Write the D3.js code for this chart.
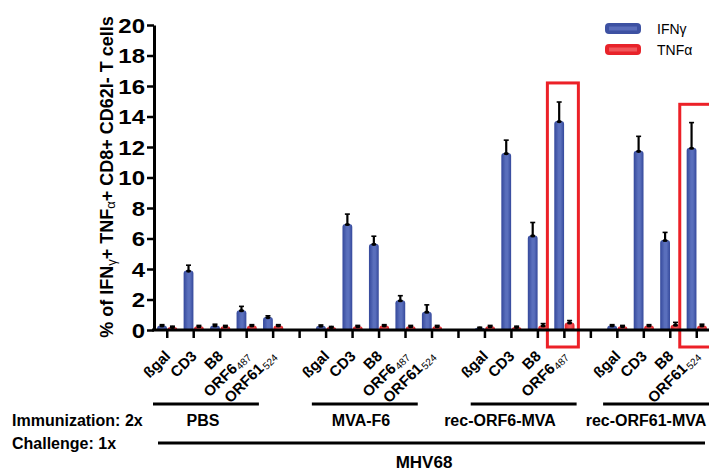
<!DOCTYPE html>
<html><head><meta charset="utf-8">
<script src="https://cdn.jsdelivr.net/npm/d3@7"></script>
<style>body{margin:0;background:#fff} svg{display:block;font-family:"Liberation Sans",Arial,Helvetica,sans-serif}</style>
</head><body><svg id="c" width="709" height="472"></svg>
<script>
// ---- data ----
const groups = ["PBS", "MVA-F6", "rec-ORF6-MVA", "rec-ORF61-MVA"];
const catPBS = ["ßgal", "CD3", "B8", "ORF6_487", "ORF61_524"];
const catMVA = ["ßgal", "CD3", "B8", "ORF6_487", "ORF61_524"];
const catRecORF6 = ["ßgal", "CD3", "B8", "ORF6_487"];
const catRecORF61 = ["ßgal", "CD3", "B8", "ORF61_524"];
const groupCats = [catPBS, catMVA, catRecORF6, catRecORF61];

const ifngMean = [
  [0.3, 3.9, 0.3, 1.3, 0.85],
  [0.28, 6.95, 5.65, 1.95, 1.2],
  [0.15, 11.6, 6.2, 13.7],
  [0.3, 11.75, 5.9, 11.95]
];
const ifngErr = [
  [0.05, 0.35, 0.08, 0.25, 0.08],
  [0.05, 0.65, 0.5, 0.3, 0.45],
  [0.03, 0.85, 0.85, 1.25],
  [0.05, 0.95, 0.5, 1.65]
];
const tnfMean = [
  [0.2, 0.25, 0.25, 0.3, 0.3],
  [0.2, 0.25, 0.3, 0.25, 0.25],
  [0.25, 0.2, 0.3, 0.5],
  [0.25, 0.3, 0.35, 0.3]
];
const tnfErr = [
  [0.05, 0.05, 0.05, 0.05, 0.05],
  [0.03, 0.05, 0.05, 0.05, 0.05],
  [0.05, 0.05, 0.12, 0.12],
  [0.05, 0.05, 0.15, 0.08]
];
const yTicks = [0, 2, 4, 6, 8, 10, 12, 14, 16, 18, 20];
const seriesNames = ["IFNγ", "TNFα"];
const highlights = [{group: 2, cat: 3, top: 16.2}, {group: 3, cat: 3, top: 14.8}];

// ---- layout ----
const svg = d3.select("#c");
const slots = [];
groupCats.forEach((cats, g) => {
  cats.forEach((c, i) => slots.push(`${g}-${i}`));
  if (g < groupCats.length - 1) slots.push(`gap-${g}`);
});
const x = d3.scaleBand().domain(slots).range([154, 710]);
const y = d3.scaleLinear().domain([0, 20]).range([330, 25]);
const cx = k => x(k) + x.bandwidth() / 2;
const bw = 9.8;
const groupLabelX = [203, 361, 500, 646];

// gradients
const defs = svg.append("defs");
function grad(id, edge, mid) {
  const gr = defs.append("linearGradient").attr("id", id).attr("x1", 0).attr("x2", 1).attr("y1", 0).attr("y2", 0);
  [[0, edge], [0.45, mid], [0.65, mid], [1, edge]].forEach(([o, c]) => gr.append("stop").attr("offset", o).attr("stop-color", c));
}
grad("gb", "#34489b", "#5a6fbc");
grad("gr", "#e41d24", "#f2575b");
const colors = ["url(#gb)", "url(#gr)"];

// highlight boxes
highlights.forEach(h => {
  const c = cx(`${h.group}-${h.cat}`);
  svg.append("rect").attr("x", c - 17).attr("y", y(h.top)).attr("width", 31).attr("height", 347 - y(h.top))
    .attr("fill", "none").attr("stroke", "#ec2027").attr("stroke-width", 3);
});

// bars
function barPath(x0, w, top, bottom) {
  const h = bottom - top, r = Math.min(3, h, w / 2);
  return `M${x0},${bottom}V${top + r}Q${x0},${top} ${x0 + r},${top}H${x0 + w - r}Q${x0 + w},${top} ${x0 + w},${top + r}V${bottom}Z`;
}
const barG = svg.append("g");
groupCats.forEach((cats, g) => {
  cats.forEach((c, i) => {
    const center = cx(`${g}-${i}`);
    [[ifngMean, ifngErr, center - bw - 0.3], [tnfMean, tnfErr, center + 0.3]].forEach(([m, e, x0], s) => {
      const v = m[g][i], er = e[g][i];
      barG.append("path").attr("d", barPath(x0, bw, y(v), y(0))).attr("fill", colors[s]);
      const bc = x0 + bw / 2;
      barG.append("line").attr("x1", bc).attr("x2", bc).attr("y1", y(v)).attr("y2", y(v + er))
        .attr("stroke", "#000").attr("stroke-width", 2.2);
      barG.append("line").attr("x1", bc - 2.5).attr("x2", bc + 2.5).attr("y1", y(v + er)).attr("y2", y(v + er))
        .attr("stroke", "#000").attr("stroke-width", 1.6);
      barG.append("ellipse").attr("cx", bc).attr("cy", y(v) + 0.5).attr("rx", 2.6).attr("ry", 1.6).attr("fill", "#000");
    });
  });
});

// y axis
const yAx = svg.append("g").attr("transform", "translate(154,0)")
  .call(d3.axisLeft(y).tickValues(yTicks).tickSize(7).tickSizeOuter(0).tickPadding(2));
yAx.select(".domain").attr("stroke-width", 3);
yAx.selectAll(".tick line").attr("stroke-width", 2.5);
yAx.selectAll(".tick text").attr("font-size", 20).attr("font-weight", "bold").attr("fill", "#000")
  .attr("x", 0).attr("dy", "0.36em").attr("transform", "translate(-9,0) scale(1.2,1)");

// x axis
const xAx = svg.append("g").attr("transform", "translate(0,330)")
  .call(d3.axisBottom(x).tickSize(8).tickSizeOuter(0).tickFormat(""));
xAx.select(".domain").attr("stroke-width", 3).attr("d", "M152,0H709");
xAx.selectAll(".tick line").attr("stroke-width", 2.5);

// x labels
groupCats.forEach((cats, g) => {
  cats.forEach((c, i) => {
    const [name, sub] = c.split("_");
    const t = svg.append("text").attr("transform", `translate(${cx(`${g}-${i}`) + 4},357) rotate(-45)`)
      .attr("text-anchor", "end").attr("font-size", 15).attr("font-weight", "bold");
    t.append("tspan").text(name);
    if (sub) t.append("tspan").attr("font-size", 10).attr("font-weight", "normal").attr("dy", 2).attr("dx", 1).text(sub);
  });
});

// y label
const yl = svg.append("text").attr("transform", "translate(113,177) rotate(-90)")
  .attr("text-anchor", "middle").attr("font-size", 18).attr("font-weight", "bold");
[["% of IFN", 18, 0], ["γ", 13, 3], ["+ TNF", 18, -3], ["α", 13, 2], ["+ CD8+ CD62l- T cells", 18, -2]].forEach(([s, fs, dy]) => {
  yl.append("tspan").attr("font-size", fs).attr("font-weight", fs < 18 ? "normal" : "bold").attr("dy", dy).text(s);
});

// legend
seriesNames.forEach((n, s) => {
  const ly = 23 + s * 21;
  svg.append("rect").attr("x", 605).attr("y", ly).attr("width", 36).attr("height", 11).attr("rx", 4)
    .attr("fill", s ? "#e8232a" : "#3d51a2");
  svg.append("rect").attr("x", 609).attr("y", ly + 3.5).attr("width", 28).attr("height", 4)
    .attr("fill", s ? "#f0585c" : "#5a6dba");
  svg.append("text").attr("x", 657).attr("y", ly + 11).attr("font-size", 14).text(n);
});

// group lines and labels
groups.forEach((gname, g) => {
  const x0 = x(`${g}-0`) - 1;
  const x1 = Math.min(x0 + 4 * x.step(), 709);
  svg.append("line").attr("x1", x0).attr("x2", x1).attr("y1", 404).attr("y2", 404).attr("stroke", "#000").attr("stroke-width", 3);
  svg.append("text").attr("x", groupLabelX[g]).attr("y", 426)
    .attr("text-anchor", "middle").attr("font-size", 16).attr("font-weight", "bold").text(gname);
});
svg.append("text").attr("x", 12).attr("y", 426).attr("font-size", 16).attr("font-weight", "bold").text("Immunization: 2x");
svg.append("text").attr("x", 12).attr("y", 449).attr("font-size", 16).attr("font-weight", "bold").text("Challenge: 1x");
svg.append("line").attr("x1", 158).attr("x2", 705).attr("y1", 443).attr("y2", 443).attr("stroke", "#000").attr("stroke-width", 3);
svg.append("text").attr("x", 424).attr("y", 468).attr("text-anchor", "middle").attr("font-size", 17).attr("font-weight", "bold").text("MHV68");
</script></body></html>
